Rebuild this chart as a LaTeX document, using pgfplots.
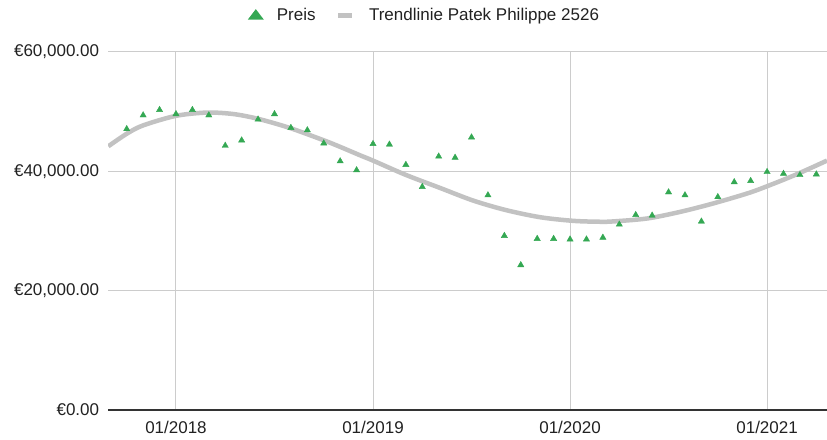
\documentclass[border=0pt]{standalone}
\usepackage{fontspec}
\setmainfont{Liberation Sans}
\usepackage{pgfplots}
\pgfplotsset{compat=1.18}
\definecolor{ptgreen}{HTML}{34A853}
\definecolor{trendgray}{HTML}{C2C2C2}
\definecolor{gridgray}{HTML}{CCCCCC}
\definecolor{axisdark}{HTML}{333333}
\begin{document}
\begin{tikzpicture}
\fontsize{17}{20}\selectfont
\useasboundingbox (0,0) rectangle (827pt,439pt);
\begin{axis}[
  at={(108pt,29pt)}, anchor=south west,
  scale only axis, width=719pt, height=358pt,
  xmin=-4.14, xmax=39.65, ymin=0, ymax=60000,
  scaled y ticks=false,
  xtick={0,12,24,36}, xticklabels={01/2018,01/2019,01/2020,01/2021},
  ytick={0,20000,40000,60000},
  yticklabels={{€0.00},{€20,000.00},{€40,000.00},{€60,000.00}},
  xmajorgrids, ymajorgrids,
  grid style={gridgray, line width=1pt},
  major tick length=0pt,
  axis x line*=bottom, axis y line*=left,
  x axis line style={axisdark, line width=1.3pt, -},
  y axis line style={draw=none},
  tick label style={font=\fontsize{17}{20}\selectfont, text=black!87},
  xticklabel style={yshift=-5pt},
  yticklabel style={xshift=-3pt},
  legend style={draw=none, fill=none, at={(axis description cs:0.19,1.103)}, anchor=west,
    font=\fontsize{17}{20}\selectfont, legend columns=2, text=black!87,
    /tikz/every even column/.append style={column sep=18pt}},
  legend cell align=left,
]
\addplot[trendgray, line width=4.5pt, smooth, forget plot] coordinates {
(-4.12,44200) (-3.0,46300) (-2.0,47700) (0.0,49300) (1.9,49850) (3.5,49600) (5.0,48800)
(6.9,47300) (9.0,45200) (10.0,44100) (11.2,42700) (12.0,41800) (14.0,39400)
(16.1,37200) (18.1,35100) (20.1,33500) (22.2,32300) (24.2,31700) (25.8,31550)
(26.6,31600) (28.7,32100) (30.7,33200) (32.7,34600) (34.8,36300) (36.0,37500)
(37.8,39500) (39.65,41800)
};
\addplot[only marks, mark=triangle*, mark size=3.6pt, ptgreen, mark options={fill=ptgreen, draw=ptgreen},
  legend image code/.code={
    \path[draw=none, fill=none] (0pt,-1pt) rectangle (27pt,1pt);
    \fill[ptgreen, draw=none] (0pt,-4.5pt) -- (16pt,-4.5pt) -- (8pt,6pt) -- cycle;}] coordinates {
(-3,47100) (-2,49400) (-1,50300) (0,49600) (1,50300) (2,49400) (3,44300) (4,45200)
(5,48700) (6,49600) (7,47300) (8,46900) (9,44700) (10,41700) (11,40200)
(12,44600) (13,44500) (14,41100) (15,37400) (16,42500) (17,42300) (18,45700)
(19,36000) (20,29200) (21,24300) (22,28700) (23,28700) (24,28600) (25,28600)
(26,28900) (27,31100) (28,32700) (29,32600) (30,36500) (31,36000) (32,31600)
(33,35700) (34,38200) (35,38400) (36,39900) (37,39600) (38,39400) (39,39500)
};
\addlegendentry{Preis}
\addlegendimage{legend image code/.code={
    \path[draw=none, fill=none] (0pt,-1pt) rectangle (29pt,1pt);
    \draw[trendgray, line width=5pt] (0pt,0pt) -- (14pt,0pt);}}
\addlegendentry{Trendlinie Patek Philippe 2526}
\end{axis}
\end{tikzpicture}
\end{document}
